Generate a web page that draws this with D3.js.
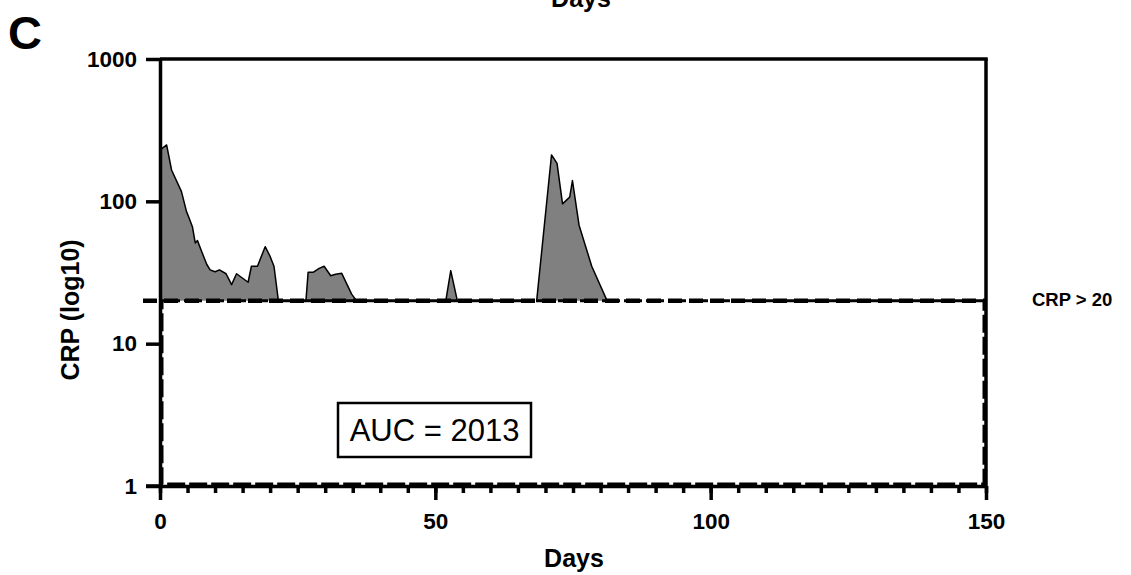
<!DOCTYPE html>
<html>
<head>
<meta charset="utf-8">
<script src="https://cdn.jsdelivr.net/npm/d3@7"></script>
<style>
  html, body { margin: 0; padding: 0; background: #fff; }
  svg { display: block; font-family: "Liberation Sans", Arial, sans-serif; }
</style>
</head>
<body>
<svg id="chart" width="1131" height="575"></svg>
<script>
// ---- data ----
const days = [0, 1.2, 2.1, 3.9, 4.8, 5.3, 5.9, 6.4, 6.8, 7.6, 8.5, 9.1, 10, 10.8, 12, 13, 13.9, 16, 16.6, 17.7, 19.1, 20, 20.7, 21.5,
              24,
              26.5, 26.9, 27.8, 28.9, 29.8, 31, 31.9, 33, 34.8, 35.7,
              45,
              51.9, 52.8, 54,
              60,
              68.4, 71.1, 72.1, 73.1, 74.4, 74.9, 76.1, 78.4, 81.2];
const crp =  [229, 249, 166, 117, 85, 76, 66, 51, 53, 44, 36, 33, 32, 33, 31, 26, 31, 27, 35, 35, 48, 41, 35, 20,
              null,
              20, 31.7, 31.7, 33.8, 35, 30, 30.7, 31.2, 22.3, 20,
              null,
              20, 32.6, 20,
              null,
              20, 212, 185, 96, 107, 140, 68, 35, 20];
const threshold = 20;
const thresholdLabel = "CRP > 20";
const xMajorTicks = [0, 50, 100, 150];
const xMinorTicks = d3.range(0, 151, 5);
const yTicks = [1, 10, 100, 1000];
const aucLabel = "AUC = 2013";
const panelLabel = "C";
const xTitle = "Days";
const yTitle = "CRP (log10)";

// ---- layout ----
const svg = d3.select("#chart");
const x = d3.scaleLinear().domain([0, 150]).range([160, 986]);
const y = d3.scaleLog().domain([1, 1000]).range([486, 59]);
const axisW = 3.5;
const fontB = "bold";

const pts = days.map((d, i) => ({ d, v: crp[i] }));

// area between curve and threshold
const area = d3.area()
  .defined(p => p.v != null)
  .x(p => x(p.d))
  .y0(y(threshold))
  .y1(p => y(p.v));
const line = d3.line()
  .defined(p => p.v != null)
  .x(p => x(p.d))
  .y(p => y(p.v));

svg.append("path").datum(pts)
  .attr("d", area)
  .attr("fill", "#808080");
svg.append("path").datum(pts)
  .attr("d", line)
  .attr("fill", "none")
  .attr("stroke", "#000")
  .attr("stroke-width", 1.5)
  .attr("stroke-linejoin", "round");

// dashed lower box (threshold down to 1)
svg.append("rect")
  .attr("x", x(0) + 2)
  .attr("y", y(threshold))
  .attr("width", x(150) - x(0) - 4)
  .attr("height", y(1) - y(threshold) - 2)
  .attr("fill", "none")
  .attr("stroke", "#000")
  .attr("stroke-width", 3)
  .attr("stroke-dasharray", "18,4");

// threshold dashed line
svg.append("line")
  .attr("x1", x(0) - 17).attr("x2", x(150))
  .attr("y1", y(threshold)).attr("y2", y(threshold))
  .attr("stroke", "#000")
  .attr("stroke-width", 4.5)
  .attr("stroke-dasharray", "14,7");

// top and right frame
svg.append("line")
  .attr("x1", x(0)).attr("x2", x(150) + axisW / 2)
  .attr("y1", y(1000)).attr("y2", y(1000))
  .attr("stroke", "#000").attr("stroke-width", axisW);
svg.append("line")
  .attr("x1", x(150)).attr("x2", x(150))
  .attr("y1", y(1000)).attr("y2", y(1))
  .attr("stroke", "#000").attr("stroke-width", axisW);

// y axis
const yAxis = svg.append("g")
  .attr("transform", `translate(${x(0)},0)`)
  .call(d3.axisLeft(y).tickValues(yTicks).tickFormat(d3.format("d")).tickSize(14).tickSizeOuter(0).tickPadding(9));
yAxis.select(".domain").attr("stroke-width", axisW);
yAxis.selectAll(".tick line").attr("stroke-width", 3.5);
yAxis.selectAll("text")
  .attr("font-size", 22.5).attr("font-weight", fontB).attr("fill", "#000")
  .attr("font-family", "Liberation Sans, Arial, sans-serif");

// x axis minor
const xMinor = svg.append("g")
  .attr("transform", `translate(0,${y(1)})`)
  .call(d3.axisBottom(x).tickValues(xMinorTicks).tickFormat("").tickSize(7).tickSizeOuter(0));
xMinor.select(".domain").remove();
xMinor.selectAll(".tick line").attr("stroke-width", 3.5);

// x axis major
const xAxis = svg.append("g")
  .attr("transform", `translate(0,${y(1)})`)
  .call(d3.axisBottom(x).tickValues(xMajorTicks).tickFormat(d3.format("d")).tickSize(14).tickSizeOuter(0));
xAxis.select(".domain").attr("stroke-width", axisW);
xAxis.selectAll(".tick line").attr("stroke-width", 3.5);
xAxis.selectAll("text")
  .attr("y", 43).attr("dy", null)
  .attr("font-size", 22.5).attr("font-weight", fontB).attr("fill", "#000")
  .attr("font-family", "Liberation Sans, Arial, sans-serif");
// extend x domain line left to the y-tick
svg.append("line")
  .attr("x1", x(0) - 14).attr("x2", x(0))
  .attr("y1", y(1)).attr("y2", y(1))
  .attr("stroke", "#000").attr("stroke-width", 3.5);

// titles
svg.append("text")
  .attr("x", 574).attr("y", 567)
  .attr("text-anchor", "middle")
  .attr("font-size", 25).attr("font-weight", fontB)
  .text(xTitle);
svg.append("text")
  .attr("transform", `translate(79,310) rotate(-90)`)
  .attr("text-anchor", "middle")
  .attr("font-size", 25).attr("font-weight", fontB)
  .text(yTitle);

// cut-off top title (from panel above)
svg.append("text")
  .attr("x", 581).attr("y", 7)
  .attr("text-anchor", "middle")
  .attr("font-size", 25).attr("font-weight", fontB)
  .text(xTitle);

// panel label
svg.append("text")
  .attr("x", 8).attr("y", 49)
  .attr("font-size", 47).attr("font-weight", fontB)
  .text(panelLabel);

// threshold label
svg.append("text")
  .attr("x", 1032).attr("y", 306)
  .attr("font-size", 18.5).attr("font-weight", fontB)
  .text(thresholdLabel);

// AUC box
svg.append("rect")
  .attr("x", 338).attr("y", 403)
  .attr("width", 193).attr("height", 54)
  .attr("fill", "#fff").attr("stroke", "#000").attr("stroke-width", 2.5);
svg.append("text")
  .attr("x", 434.5).attr("y", 441)
  .attr("text-anchor", "middle")
  .attr("font-size", 31)
  .text(aucLabel);
</script>
</body>
</html>
